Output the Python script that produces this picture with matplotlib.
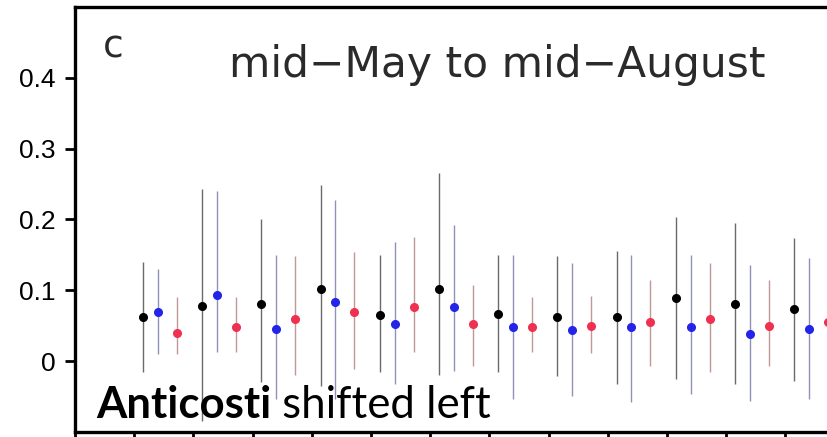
import numpy as np
import matplotlib
matplotlib.use("Agg")
import matplotlib.pyplot as plt

"""
Seasonal panel (c): mid-May to mid-August, three series with error bars.
"""

groups = np.arange(1, 13)

black_vals = [0.063, 0.078, 0.081, 0.102, 0.065, 0.102, 0.067, 0.063, 0.063, 0.089, 0.080, 0.074]
black_lo = [-0.015, -0.085, -0.030, -0.035, -0.015, -0.020, -0.016, -0.021, -0.032, -0.025, -0.032, -0.028]
black_hi = [0.140, 0.243, 0.200, 0.248, 0.150, 0.266, 0.150, 0.148, 0.155, 0.204, 0.195, 0.174]

blue_vals = [0.070, 0.093, 0.046, 0.083, 0.053, 0.076, 0.048, 0.044, 0.048, 0.048, 0.039, 0.045]
blue_lo = [0.010, 0.013, -0.053, -0.053, -0.032, -0.014, -0.053, -0.049, -0.058, -0.046, -0.056, -0.053]
blue_hi = [0.130, 0.240, 0.150, 0.227, 0.168, 0.192, 0.150, 0.138, 0.150, 0.150, 0.136, 0.146]

red_vals = [0.040, 0.048, 0.060, 0.070, 0.076, 0.052, 0.048, 0.049, 0.055, 0.059, 0.049, 0.055]
red_lo = [0.010, 0.013, -0.020, -0.011, 0.013, -0.007, 0.013, 0.012, -0.007, -0.016, -0.007, 0.000]
red_hi = [0.090, 0.091, 0.148, 0.154, 0.175, 0.108, 0.091, 0.092, 0.115, 0.138, 0.115, 0.125]

y_ticks = [0, 0.1, 0.2, 0.3, 0.4]
y_tick_labels = ["0", "0.1", "0.2", "0.3", "0.4"]
x_ticks = np.arange(0, 15)

title = "mid\u2212May to mid\u2212August"
panel_label = "c"
note_bold = "Anticosti"
note_regular = " shifted left"


def draw_series(ax, offset, vals, lo, hi, color, bar_color):

    """
    Draw one series as points with vertical error lines.
    :param ax: The axes.
    :param offset: Shift of the series inside each tick interval.
    :param vals: Central values.
    :param lo: Lower ends of the error lines.
    :param hi: Upper ends of the error lines.
    :param color: Point colour.
    :param bar_color: Error line colour.
    :return: None
    """

    x = groups + offset
    ax.vlines(x, lo, hi, color=bar_color, linewidth=1.0, zorder=2)
    ax.plot(x, vals, linestyle="none", marker="o", markersize=5.5,
            color=color, zorder=3)


fig = plt.figure(figsize=(8.28, 4.37), dpi=100)
W, H = 828, 437
ax = fig.add_axes([75 / W, 5 / H, 14 * 59.2 / W, 425 / H])

draw_series(ax, 0.15, black_vals, black_lo, black_hi, "#000000", "#6a6a6a")
draw_series(ax, 0.40, blue_vals, blue_lo, blue_hi, "#2424e8", "#9090b8")
draw_series(ax, 0.72, red_vals, red_lo, red_hi, "#f03050", "#c09898")

ax.set_xlim(0, 14)
ax.set_ylim(-0.1, 0.5)
ax.set_xticks(x_ticks)
ax.set_xticklabels([])
ax.set_yticks(y_ticks)
ax.set_yticklabels(y_tick_labels, fontsize=19, family="Liberation Sans")
ax.tick_params(axis="both", direction="out", length=7, width=2)
ax.tick_params(axis="y", pad=7)
for side in ["left", "top", "bottom", "right"]:
    ax.spines[side].set_linewidth(2.4)

ax.text(497 / W, 1 - 77 / H, title, transform=fig.transFigure, ha="center",
        va="baseline", fontsize=30.5, color="#2a2a2a", family="DejaVu Sans")
ax.text(103 / W, 1 - 58 / H, panel_label, transform=fig.transFigure,
        ha="left", va="baseline", fontsize=27, color="#2a2a2a",
        family="DejaVu Sans")

t1 = ax.text(96 / W, 1 - 418 / H, note_bold, transform=fig.transFigure,
             ha="left", va="baseline", fontsize=31.5, fontweight="bold",
             family="Lato", color="black")
fig.canvas.draw()
bb = t1.get_window_extent(renderer=fig.canvas.get_renderer())
ax.text(bb.x1 / W, 1 - 418 / H, note_regular, transform=fig.transFigure,
        ha="left", va="baseline", fontsize=31.5, family="Lato", color="black")

fig.savefig("out.png", dpi=100)
